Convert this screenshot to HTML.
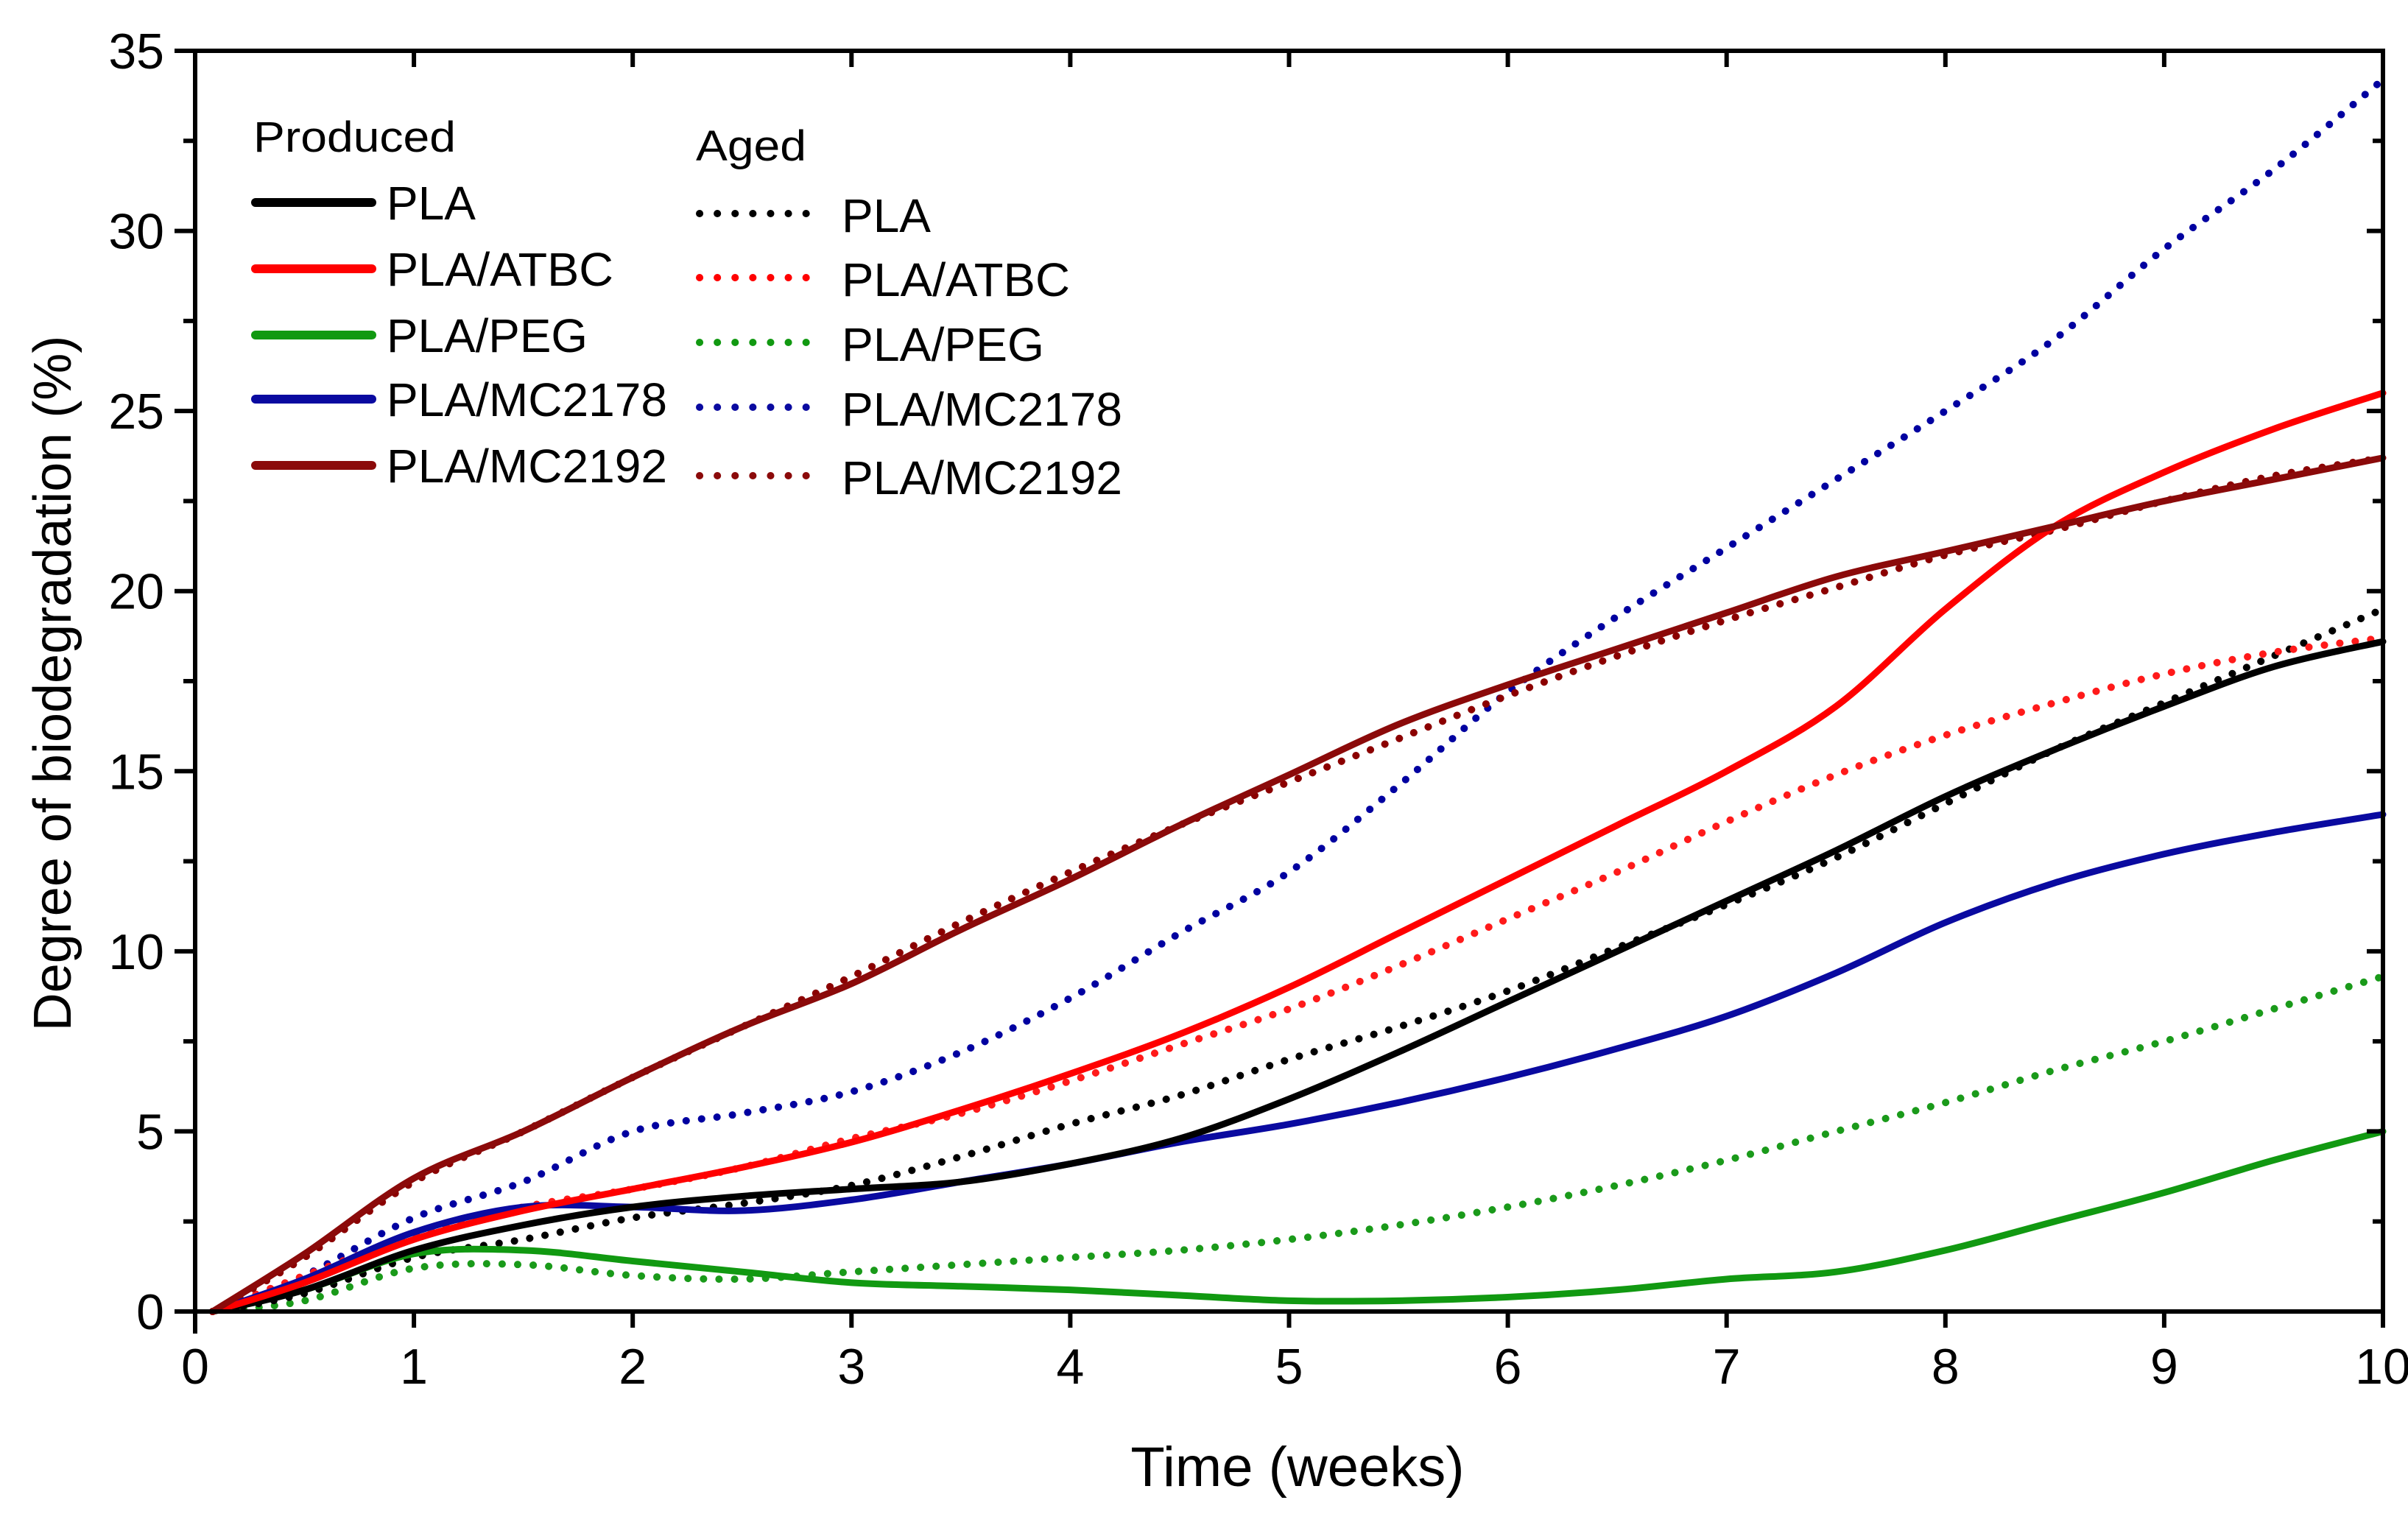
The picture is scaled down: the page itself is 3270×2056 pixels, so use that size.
<!DOCTYPE html>
<html><head><meta charset="utf-8"><style>
html,body{margin:0;padding:0;background:#fff;}
svg{display:block;font-family:"Liberation Sans",Arial,sans-serif;}
</style></head><body>
<svg id="chart" width="3270" height="2056" viewBox="0 0 3270 2056" xmlns="http://www.w3.org/2000/svg">
<g id="series"></g>
<g id="axes"></g>
<g id="legend"></g>
<text x="1762" y="2018" font-size="76" text-anchor="middle">Time (weeks)</text>
<text x="0" y="0" font-size="72" text-anchor="middle" transform="translate(96,928) rotate(-90)">Degree of biodegradation (%)</text>
</svg>
<script>
const weeks = [0,0.5,1,1.5,2,2.5,3,3.5,4,4.5,5,5.5,6,6.5,7,7.5,8,8.5,9,9.5,10];
const plaProduced   = [0,0.6,1.7,2.4,2.9,3.2,3.4,3.6,4.1,4.8,5.9,7.2,8.6,10,11.4,12.8,14.3,15.6,16.8,17.9,18.6];
const plaAged       = [0,0.5,1.5,2.0,2.6,3.0,3.5,4.3,5.2,6.0,7.0,7.9,8.9,10.1,11.3,12.6,14.1,15.6,16.9,18.2,19.5];
const atbcProduced  = [0,0.8,2.0,2.8,3.4,4.0,4.7,5.6,6.6,7.7,9.0,10.5,12.0,13.5,15.0,16.8,19.5,21.8,23.3,24.5,25.5];
const atbcAged      = [0,1.0,2.1,2.9,3.4,4.0,4.8,5.5,6.4,7.4,8.4,9.6,10.9,12.2,13.6,14.9,16.0,16.9,17.7,18.3,18.7];
const pegProduced   = [0,0.6,1.6,1.7,1.4,1.1,0.8,0.7,0.6,0.45,0.3,0.3,0.4,0.6,0.9,1.1,1.7,2.5,3.3,4.2,5.0];
const pegAged       = [0,0.3,1.2,1.3,1.0,0.9,1.1,1.3,1.5,1.7,2.0,2.4,2.9,3.5,4.2,5.0,5.8,6.7,7.5,8.4,9.3];
const mc2178Produced= [0,0.9,2.2,2.9,2.9,2.8,3.1,3.6,4.1,4.7,5.2,5.8,6.5,7.3,8.2,9.4,10.8,11.9,12.7,13.3,13.8];
const mc2178Aged    = [0,1.0,2.6,3.6,5.0,5.5,6.1,7.2,8.7,10.5,12.2,14.6,17.2,19.3,21.2,23.1,25.0,27.0,29.5,31.7,34.2];
const mc2192Produced= [0,1.6,3.7,5.0,6.5,7.9,9.1,10.6,12.0,13.5,14.9,16.3,17.4,18.4,19.4,20.4,21.1,21.8,22.5,23.1,23.7];
const mc2192Aged    = [0,1.5,3.6,5.0,6.5,7.9,9.3,10.8,12.2,13.5,14.7,15.9,17.1,18.2,19.2,20.1,21.0,21.7,22.5,23.2,23.7];
const xTicks = [0,1,2,3,4,5,6,7,8,9,10];
const yTicks = [0,5,10,15,20,25,30,35];
const seriesNames = ["PLA","PLA/ATBC","PLA/PEG","PLA/MC2178","PLA/MC2192"];

const NS="http://www.w3.org/2000/svg";
const L=265,R=3236,T=69,B=1781;
const sx=v=>L+(v-0)/(10-0)*(R-L);
const sy=v=>B-(v-0)/(35-0)*(B-T);
function mk(tag,attrs,parent){const e=document.createElementNS(NS,tag);for(const k in attrs)e.setAttribute(k,attrs[k]);parent.appendChild(e);return e;}
function pathFor(xs,ys){
  const p=xs.map((x,i)=>[sx(i===0?x+0.08:x),sy(ys[i])]);
  let d="M"+p[0][0]+","+p[0][1];
  for(let i=0;i<p.length-1;i++){
    const p0=p[i-1]||p[i],p1=p[i],p2=p[i+1],p3=p[i+2]||p2;
    const c1x=p1[0]+(p2[0]-p0[0])/6,c1y=p1[1]+(p2[1]-p0[1])/6;
    const c2x=p2[0]-(p3[0]-p1[0])/6,c2y=p2[1]-(p3[1]-p1[1])/6;
    d+=` C${c1x},${c1y} ${c2x},${c2y} ${p2[0]},${p2[1]}`;
  }
  return d;
}
const sg=document.getElementById('series');
const defs=[
 [mc2178Aged,"#0000a0",true,"mc2178-aged-line"],
 [pegAged,"#1a9a1a",true,"peg-aged-line"],
 [plaAged,"#000",true,"pla-aged-line"],
 [atbcAged,"#ff1a1a",true,"atbc-aged-line"],
 [mc2192Aged,"#8b0000",true,"mc2192-aged-line"],
 [pegProduced,"#119911",false,"peg-produced-line"],
 [mc2178Produced,"#0a0aa0",false,"mc2178-produced-line"],
 [plaProduced,"#000",false,"pla-produced-line"],
 [atbcProduced,"#ff0000",false,"atbc-produced-line"],
 [mc2192Produced,"#8b0a0a",false,"mc2192-produced-line"]
];
defs.forEach(([ys,c,dot,name])=>{
  const el=mk('path',{d:pathFor(weeks,ys),fill:"none",stroke:c,"stroke-width":dot?10:9,"stroke-linecap":"round","stroke-linejoin":"round"},sg);
  if(dot)el.setAttribute('stroke-dasharray','0.1 21');
  
  
});
const ag=document.getElementById('axes');
mk('rect',{x:L,y:T,width:R-L,height:B-T,fill:"none",stroke:"#000","stroke-width":6},ag);
mk('line',{x1:L,y1:B,x2:L,y2:B+30,stroke:"#000","stroke-width":6},ag);
xTicks.forEach(v=>{
  const x=sx(v);
  mk('line',{x1:x,y1:B,x2:x,y2:B+22,stroke:"#000","stroke-width":6},ag);
  mk('line',{x1:x,y1:T,x2:x,y2:T+22,stroke:"#000","stroke-width":6},ag);
  const t=mk('text',{x:x,y:B+98,"font-size":68,"text-anchor":"middle"},ag);
  t.textContent=v;
  
  
});
yTicks.forEach((v,i)=>{
  const y=sy(v);
  mk('line',{x1:L-28,y1:y,x2:L,y2:y,stroke:"#000","stroke-width":6},ag);
  mk('line',{x1:R-22,y1:y,x2:R,y2:y,stroke:"#000","stroke-width":6},ag);
  if(i<yTicks.length-1){
    const ym=sy(v+2.5);
    mk('line',{x1:L-16,y1:ym,x2:L,y2:ym,stroke:"#000","stroke-width":6},ag);
    mk('line',{x1:R-14,y1:ym,x2:R,y2:ym,stroke:"#000","stroke-width":6},ag);
  }
  const t=mk('text',{x:L-42,y:y+24,"font-size":68,"text-anchor":"end"},ag);
  t.textContent=v;
  
  
});
const lg=document.getElementById('legend');
const hp=mk('text',{x:344,y:206,"font-size":58,textLength:275,lengthAdjust:"spacingAndGlyphs"},lg);hp.textContent="Produced";


const ha=mk('text',{x:945,y:218,"font-size":58,textLength:150,lengthAdjust:"spacingAndGlyphs"},lg);ha.textContent="Aged";


const pc=["#000","#ff0000","#119911","#0a0aa0","#8b0a0a"];
const prodY=[275,365,455,542,632];
const agedY=[290,377,465,553,646];
const widthsP=[121,308,273,381,381];
const widthsA=[121,310,275,381,381];
seriesNames.forEach((n,i)=>{
  mk('line',{x1:347,y1:prodY[i],x2:505,y2:prodY[i],stroke:pc[i],"stroke-width":12,"stroke-linecap":"round"},lg);
  const t=mk('text',{x:525,y:prodY[i]+23,"font-size":64,textLength:widthsP[i],lengthAdjust:"spacingAndGlyphs"},lg);t.textContent=n;
  
  
  const d=mk('line',{x1:950,y1:agedY[i],x2:1095,y2:agedY[i],stroke:pc[i],"stroke-width":10,"stroke-linecap":"round","stroke-dasharray":"0.1 24"},lg);
  
  
  const t2=mk('text',{x:1143,y:agedY[i]+25,"font-size":64,textLength:widthsA[i],lengthAdjust:"spacingAndGlyphs"},lg);t2.textContent=n;
  
  
});
</script>
</body></html>
